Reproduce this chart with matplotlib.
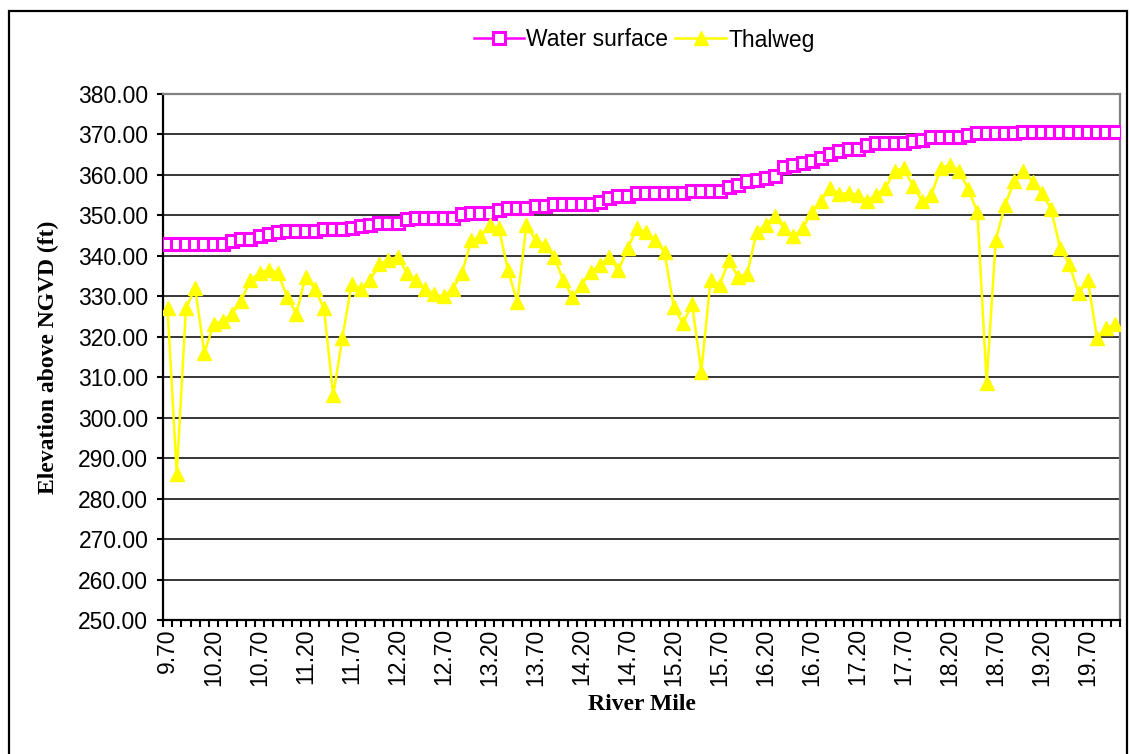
import matplotlib
matplotlib.use("Agg")
import matplotlib.pyplot as plt
from matplotlib.patches import Rectangle

# river mile categories (one per station)
river_mile = [
    "9.70", "9.80", "9.90", "10.00", "10.10", "10.20", "10.30", "10.40", "10.50", "10.60",
    "10.70", "10.80", "10.90", "11.00", "11.10", "11.20", "11.30", "11.40", "11.50", "11.60",
    "11.70", "11.80", "11.90", "12.00", "12.10", "12.20", "12.30", "12.40", "12.50", "12.60",
    "12.70", "12.80", "12.90", "13.00", "13.10", "13.20", "13.30", "13.40", "13.50", "13.60",
    "13.70", "13.80", "13.90", "14.00", "14.10", "14.20", "14.30", "14.40", "14.50", "14.60",
    "14.70", "14.80", "14.90", "15.00", "15.10", "15.20", "15.30", "15.40", "15.50", "15.60",
    "15.70", "15.80", "15.90", "16.00", "16.10", "16.20", "16.30", "16.40", "16.50", "16.60",
    "16.70", "16.80", "16.90", "17.00", "17.10", "17.20", "17.30", "17.40", "17.50", "17.60",
    "17.70", "17.80", "17.90", "18.00", "18.10", "18.20", "18.30", "18.40", "18.50", "18.60",
    "18.70", "18.80", "18.90", "19.00", "19.10", "19.20", "19.30", "19.40", "19.50", "19.60",
    "19.70", "19.80", "19.90", "20.00",
]

water_surface = [
    343.0, 343.0, 343.0, 343.0, 343.0, 343.0, 343.0, 343.6, 344.2, 344.2,
    344.8, 345.4, 345.9, 346.1, 346.1, 346.1, 346.1, 346.6, 346.6, 346.6,
    347.0, 347.3, 347.7, 348.0, 348.0, 348.0, 349.0, 349.3, 349.3, 349.3,
    349.3, 349.3, 350.3, 350.6, 350.6, 350.6, 351.4, 351.8, 351.8, 351.8,
    352.3, 352.3, 352.8, 352.8, 352.8, 352.8, 352.8, 353.4, 354.3, 354.8,
    354.8, 355.5, 355.5, 355.5, 355.5, 355.5, 355.5, 356.1, 356.1, 356.1,
    356.1, 357.0, 357.5, 358.4, 358.8, 359.3, 359.8, 362.0, 362.5, 363.0,
    363.5, 364.1, 365.3, 365.9, 366.4, 366.4, 367.4, 367.8, 367.8, 367.8,
    367.8, 368.4, 368.6, 369.3, 369.3, 369.3, 369.3, 369.8, 370.3, 370.3,
    370.3, 370.3, 370.3, 370.6, 370.6, 370.6, 370.6, 370.6, 370.6, 370.6,
    370.6, 370.6, 370.6, 370.6,
]

thalweg = [
    327.0, 286.1, 327.0, 332.1, 316.0, 323.1, 323.9, 325.6, 328.9, 334.0,
    335.8, 336.6, 335.8, 329.8, 325.7, 334.9, 331.9, 327.0, 305.5, 319.8,
    333.0, 331.9, 334.0, 337.9, 338.9, 339.8, 335.8, 334.0, 331.9, 330.5,
    330.0, 331.9, 335.8, 343.8, 344.8, 347.7, 346.8, 336.4, 328.6, 347.7,
    343.8, 342.8, 339.8, 334.0, 329.8, 332.9, 336.0, 337.8, 339.8, 336.4,
    341.9, 346.8, 345.8, 343.8, 340.9, 327.4, 323.3, 328.0, 311.4, 334.0,
    332.9, 338.9, 334.8, 335.6, 345.8, 347.7, 349.8, 346.8, 344.8, 346.8,
    350.8, 353.6, 356.7, 355.2, 355.6, 355.1, 353.6, 355.1, 356.7, 361.0,
    361.6, 357.3, 353.5, 355.1, 361.6, 362.5, 361.0, 356.5, 350.8, 308.7,
    344.0, 352.5, 358.5, 361.0, 358.3, 355.6, 351.6, 341.9, 337.9, 330.7,
    334.0, 319.7, 322.1, 323.1,
]

y_ticks = [250, 260, 270, 280, 290, 300, 310, 320, 330, 340, 350, 360, 370, 380]

fontsize = 16.5
plt.rcParams['font.family'] = ['Liberation Sans', 'DejaVu Sans']

fig = plt.figure(figsize=(11.3, 7.54), dpi=100)
ax = fig.add_axes([0.1442, 0.1777, 0.847, 0.6976])

x = range(len(river_mile))
ax.plot(x, water_surface, color='#FF00FF', lw=1.8, marker='s', markersize=8.2,
        markerfacecolor='white', markeredgecolor='#FF00FF', markeredgewidth=2.2,
        label='Water surface', zorder=3)
ax.plot(x, thalweg, color='#FFFF00', lw=1.8, marker='^', markersize=10,
        markerfacecolor='#FFFF00', markeredgecolor='#FFFF00',
        label='Thalweg', zorder=4)

ax.set_xlim(-0.5, len(river_mile) - 0.5)
ax.set_ylim(250, 380)

# labels every 5th category, tick marks between categories
label_pos = list(range(0, len(river_mile), 5))
ax.set_xticks(label_pos)
ax.set_xticklabels([river_mile[i] for i in label_pos], rotation=90, fontsize=fontsize)
ax.set_xticks([i - 0.5 for i in range(len(river_mile) + 1)], minor=True)
ax.tick_params(axis='x', which='major', length=0, pad=6)
ax.tick_params(axis='x', which='minor', length=5, width=1.5, direction='out')

ax.set_yticks(y_ticks)
ax.set_yticklabels(['%.2f' % v for v in y_ticks], fontsize=fontsize)
ax.tick_params(axis='y', length=4.5, width=1.5, direction='out', pad=6)

ax.grid(axis='y', color='black', lw=1.1)
ax.set_axisbelow(True)

ax.spines['left'].set_linewidth(1.6)
ax.spines['bottom'].set_linewidth(1.6)
ax.spines['top'].set_color('#808080')
ax.spines['right'].set_color('#808080')
ax.spines['top'].set_linewidth(1.6)
ax.spines['right'].set_linewidth(1.6)

ax.set_xlabel('River Mile', fontsize=17, fontweight='bold',
              family=['Liberation Serif', 'DejaVu Serif'], labelpad=6)
ax.set_ylabel('Elevation above NGVD (ft)', fontsize=17, fontweight='bold',
              family=['Liberation Serif', 'DejaVu Serif'], labelpad=14)

handles, labels = ax.get_legend_handles_labels()
fig.legend(handles, labels, loc='center', bbox_to_anchor=(0.57, 1 - 40 / 754),
           ncol=2, fontsize=fontsize, frameon=False, handlelength=2.2,
           handletextpad=0.1, columnspacing=0.3)

# outer chart border
fig.patches.append(Rectangle((0.008, -0.01), 0.989, 0.995, transform=fig.transFigure,
                             fill=False, edgecolor='black', lw=1.6))

fig.savefig('out.png', dpi=100, facecolor='white')
